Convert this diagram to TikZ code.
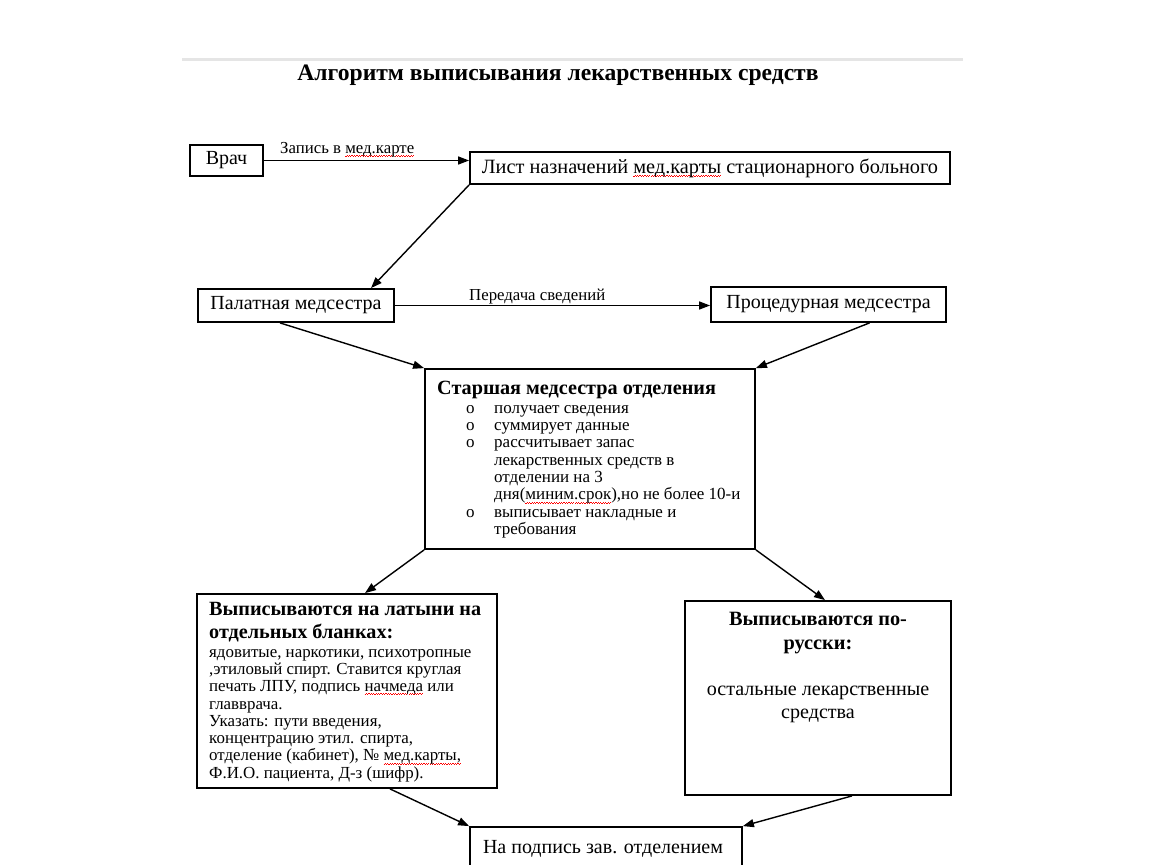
\documentclass[tikz,border=0pt]{standalone}
\usepackage{fontspec}
\setmainfont{Liberation Serif}
\usetikzlibrary{arrows.meta,calc}
\newsavebox\wvbox
\newcommand\redwv[1]{\sbox\wvbox{#1}\rlap{\color{red}\raisebox{-3.5pt}{\hbox to \wd\wvbox{\xleaders\hbox{\rule{1.2pt}{0.8pt}\raisebox{1pt}{\rule{1.2pt}{0.8pt}}}\hfill}}}\usebox\wvbox}
\begin{document}
\begin{tikzpicture}[x=1pt,y=-1pt,
  box/.style={draw=black,line width=1.8pt,fill=white,inner sep=0pt,minimum width=#1},
  conn/.style={line width=1.4pt,-{Triangle[length=11pt,width=8pt]}},
  lbl/.style={inner sep=0pt,font=\fontsize{16.8}{18}\selectfont},
  txt/.style={inner sep=0pt}]
\useasboundingbox (0,0) rectangle (1150,864);
\fill[white] (0,0) rectangle (1150,864);
\coordinate (rl) at (182,60);
\coordinate (rr) at (963,60);
\draw[line width=3pt,black!10] (rl) -- (rr);
\node[txt,anchor=base,font=\bfseries\fontsize{23.6}{26}\selectfont] (title) at (558,81) {Алгоритм выписывания лекарственных средств};

\node[box=73pt,minimum height=31pt,font=\fontsize{20}{22}\selectfont] (vrach) at (226.5,160.5) {Врач};
\node[box=480pt,minimum height=32pt,font=\fontsize{20.3}{22}\selectfont] (list) at (710,168) {Лист назначений \redwv{мед.карты} стационарного больного};
\node[box=196pt,minimum height=33pt,font=\fontsize{20}{22}\selectfont] (pal) at (296,305.5) {Палатная медсестра};
\node[box=235pt,minimum height=35pt,font=\fontsize{20}{22}\selectfont] (proc) at (828.5,304.5) {Процедурная медсестра};
\node[box=330pt,minimum height=180pt] (star) at (590,459) {};
\node[box=300pt,minimum height=194pt] (lat) at (347,691) {};
\node[box=266pt,minimum height=194pt] (rus) at (818,698) {};
\node[box=272pt,minimum height=70pt] (bot) at (606,862) {};

% labels
\node[lbl,anchor=base west] (l1) at (280,153) {Запись в \redwv{мед.карте}};
\node[lbl,anchor=base west] (l2) at (469,300) {Передача сведений};

% star contents
\node[txt,anchor=base west,font=\bfseries\fontsize{20.2}{22}\selectfont] (st) at (437,394) {Старшая медсестра отделения};
\node[txt,anchor=north west,font=\fontsize{17}{17.3}\selectfont] (sl) at (466,401)
{\begin{tabular}{@{}p{28pt}@{}l@{}}
o & получает сведения\\
o & суммирует данные\\
o & рассчитывает запас\\
  & лекарственных средств в\\
  & отделении на 3\\
  & дня(\redwv{миним.срок}),но не более 10-и\\
o & выписывает накладные и\\
  & требования
\end{tabular}};

% latin contents
\node[txt,anchor=north west,align=left,font=\bfseries\fontsize{20.2}{23}\selectfont] (lt) at (209,602)
{Выписываются на латыни на\\отдельных бланках:};
\node[txt,anchor=north west,align=left,font=\fontsize{16.9}{17.3}\selectfont] (lb) at (209,649)
{ядовитые, наркотики, психотропные\\
,этиловый спирт. Ставится круглая\\
печать ЛПУ, подпись \redwv{начмеда} или\\
главврача.\\
Указать: пути введения,\\
концентрацию этил. спирта,\\
отделение (кабинет), № \redwv{мед.карты,}\\
Ф.И.О. пациента, Д-з (шифр).};

% russian contents
\node[txt,anchor=north,align=center,font=\bfseries\fontsize{20.3}{24}\selectfont] (rt) at (818,612)
{Выписываются по-\\русски:};
\node[txt,anchor=north,align=center,font=\fontsize{20.1}{23}\selectfont] (rb) at (818,686)
{остальные лекарственные\\средства};

\node[txt,anchor=base,font=\fontsize{20}{22}\selectfont] (bt) at (603,853) {На подпись зав. отделением};

% connectors
\draw[conn] (vrach.east) -- (vrach.east -| list.west);
\draw[conn] (list.south west) -- ([xshift=75pt]pal.north);
\draw[conn] (pal.east) -- (pal.east -| proc.west);
\draw[conn] ([xshift=-16pt]pal.south) -- (star.north west);
\draw[conn] ([xshift=41pt]proc.south) -- (star.north east);
\draw[conn] (star.south west) -- ([xshift=18pt]lat.north);
\draw[conn] (star.south east) -- ([xshift=7pt]rus.north);
\draw[conn] ([xshift=43pt]lat.south) -- (bot.north west);
\draw[conn] ([xshift=34pt]rus.south) -- (bot.north east);
\end{tikzpicture}
\end{document}
